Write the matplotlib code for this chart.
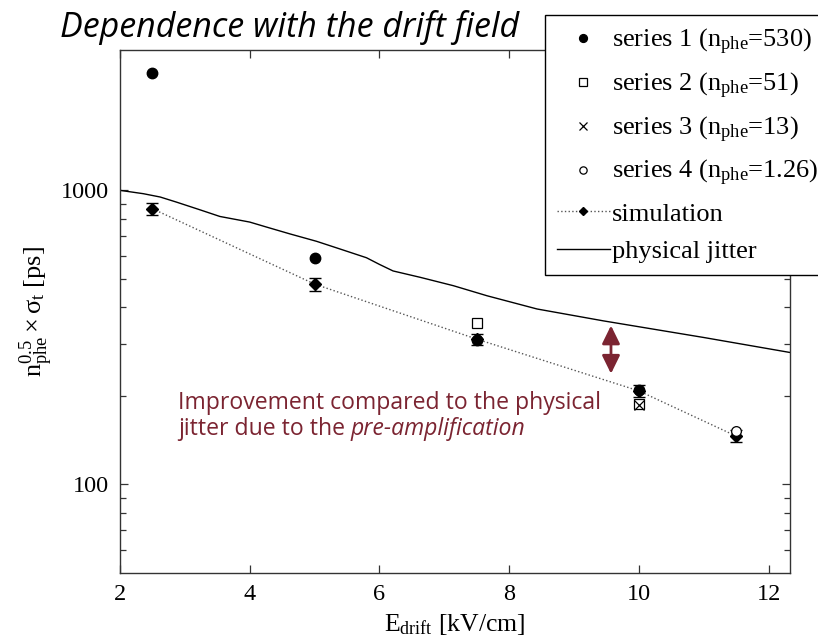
import matplotlib
matplotlib.use('Agg')
import matplotlib.pyplot as plt
from matplotlib.ticker import FixedLocator, FuncFormatter, NullFormatter

plt.rcParams['font.family'] = 'Liberation Serif'
plt.rcParams['mathtext.fontset'] = 'custom'
plt.rcParams['mathtext.rm'] = 'Liberation Serif'
plt.rcParams['mathtext.it'] = 'Liberation Serif:italic'
plt.rcParams['mathtext.bf'] = 'Liberation Serif:bold'

# measured time resolution, scaled by sqrt(n_phe)
s1_x = [2.5, 5.0, 7.5, 10.0]
s1_y = [2500, 590, 310, 210]
s2_x = [7.5, 10.0]
s2_y = [355, 188]
s3_x = [10.0]
s3_y = [186]
s4_x = [11.5]
s4_y = [152]

sim_x = [2.5, 5.0, 7.5, 10.0, 11.5]
sim_y = [866, 480, 312, 208, 146]
sim_err = [40, 24, 14, 10, 7]

# physical jitter curve
jit_x = [2.0, 2.36, 2.62, 2.87, 3.23, 3.54, 4.0, 4.26, 4.62, 5.03, 5.39, 5.8,
         6.0, 6.21, 6.63, 7.14, 7.66, 8.43, 9.45, 11.0, 12.33]
jit_y = [1000, 974, 949, 912, 859, 815, 780, 750, 711, 671, 632, 590,
         560, 532, 506, 474, 438, 395, 360, 316, 281]

y_major = [100, 1000]
y_minor = [60, 70, 80, 90, 200, 300, 400, 500, 600, 700, 800, 900]

arrow_x = 9.57
arrow_top = 347
arrow_bottom = 238

dark_red = '#7b2431'
axis_col = '#333333'

fig = plt.figure(figsize=(8.18, 6.39), dpi=100)
ax = fig.add_axes([120 / 818, 1 - 573 / 639, 670 / 818, 523 / 639])

ax.plot(jit_x, jit_y, color='black', lw=1.0, label='physical jitter', zorder=2)

ax.errorbar(sim_x, sim_y, yerr=sim_err, fmt='none', ecolor='black',
            elinewidth=1.0, capsize=4, capthick=1.0, zorder=3)
ax.plot(sim_x, sim_y, ls=':', color='#555555', lw=1.0, marker='D', ms=6,
        mfc='black', mec='black', label='simulation', zorder=4)

ax.plot(s1_x, s1_y, ls='none', marker='o', ms=7.5, mfc='black', mec='black',
        label=r'series 1 (n$_{\mathrm{phe}}$=530)', zorder=5)
ax.plot(s2_x, s2_y, ls='none', marker='s', ms=7, mfc='white', mec='black',
        mew=0.9, label=r'series 2 (n$_{\mathrm{phe}}$=51)', zorder=5)
ax.plot(s3_x, s3_y, ls='none', marker='x', ms=7, color='black', mew=0.9,
        label=r'series 3 (n$_{\mathrm{phe}}$=13)', zorder=6)
ax.plot(s4_x, s4_y, ls='none', marker='o', ms=7, mfc='white', mec='black',
        mew=0.9, label=r'series 4 (n$_{\mathrm{phe}}$=1.26)', zorder=5)

ax.set_yscale('log')
ax.set_xlim(2, 12.33)
ax.set_ylim(50, 3000)
ax.xaxis.set_major_locator(FixedLocator([2, 4, 6, 8, 10, 12]))
ax.yaxis.set_major_locator(FixedLocator(y_major))
ax.yaxis.set_minor_locator(FixedLocator(y_minor))
ax.yaxis.set_major_formatter(FuncFormatter(lambda v, p: '%d' % v))
ax.yaxis.set_minor_formatter(NullFormatter())

ax.tick_params(which='both', direction='in', top=True, right=True,
               color=axis_col, labelsize=17.5, width=0.9)
ax.tick_params(which='major', length=6, pad=8)
ax.tick_params(which='minor', length=4)
for sp in ax.spines.values():
    sp.set_color(axis_col)
    sp.set_linewidth(1.0)

ax.set_xlabel(r'E$_{\mathrm{drift}}$ [kV/cm]', fontsize=18.5, labelpad=5)
ax.set_ylabel(r'$\mathrm{n}_{\mathrm{phe}}^{0.5}\times\mathrm{σ}_{\mathrm{t}}$ [ps]',
              fontsize=19, labelpad=4)

# legend order: the four series, then simulation and jitter
h, l = ax.get_legend_handles_labels()
order = [2, 3, 4, 5, 1, 0]
leg = fig.legend([h[i] for i in order], [l[i] for i in order],
                 loc='upper left', bbox_to_anchor=(545 / 818, 1 - 15 / 639),
                 fontsize=19, frameon=True, fancybox=False, framealpha=1,
                 edgecolor='black', handlelength=2.0, handletextpad=0.1,
                 borderpad=0.45, labelspacing=0.52, markerscale=0.75,
                 borderaxespad=0)
leg.get_frame().set_linewidth(1.0)

fig.text(60 / 818, 1 - 37 / 639, 'Dependence with the drift field',
         family='Open Sans', style='italic', fontsize=24.5, va='baseline')

ax.annotate('', xy=(arrow_x, arrow_bottom), xytext=(arrow_x, arrow_top),
            arrowprops=dict(arrowstyle='<|-|>,head_length=0.55,head_width=0.27',
                            color=dark_red, lw=2.0, mutation_scale=20,
                            shrinkA=0, shrinkB=0))

fig.text(178 / 818, 1 - 409 / 639, 'Improvement compared to the physical',
         family='Open Sans', fontsize=16.6, color=dark_red, va='baseline')
t2 = fig.text(178 / 818, 1 - 435 / 639, 'jitter due to the ',
              family='Open Sans', fontsize=16.6, color=dark_red, va='baseline')
ax.annotate('pre-amplification', xy=(1, 1 - 435 / 639),
            xycoords=(t2, 'figure fraction'), va='baseline', ha='left',
            family='Open Sans', style='italic', fontsize=16.6, color=dark_red,
            annotation_clip=False)

fig.savefig('out.png', dpi=100)
